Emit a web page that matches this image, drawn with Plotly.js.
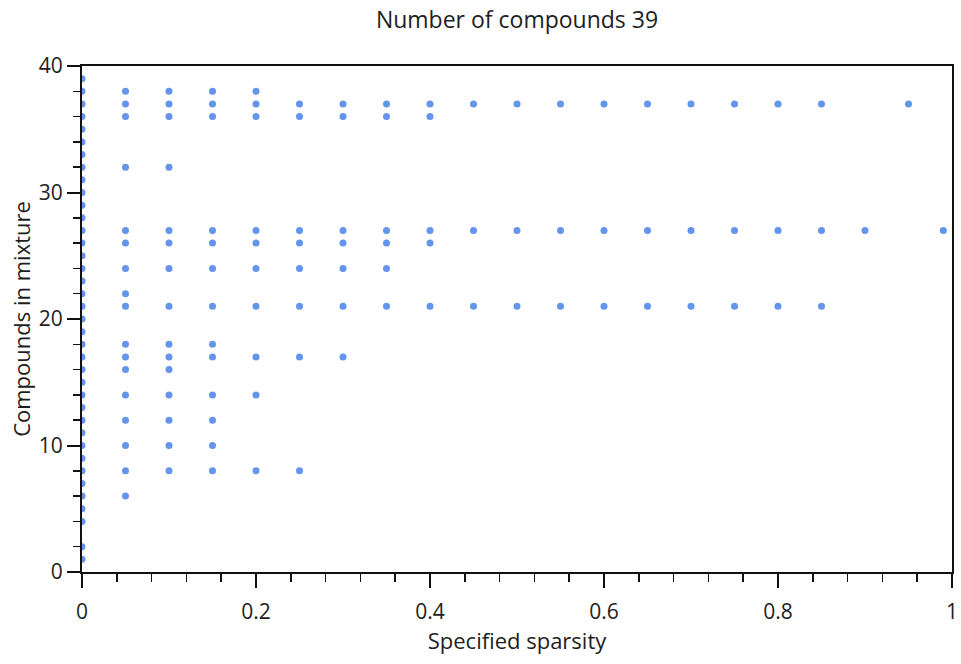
<!DOCTYPE html>
<html>
<head>
<meta charset="utf-8">
<script src="https://cdn.plot.ly/plotly-3.0.1.min.js"></script>
<style>
html,body{margin:0;padding:0;background:#fff;}
#chart{width:961px;height:664px;}
</style>
</head>
<body>
<div id="chart"></div>
<script>
// Specified sparsity levels (x positions of columns)
const sparsity = [0, 0.05, 0.10, 0.15, 0.20, 0.25, 0.30, 0.35, 0.40, 0.45, 0.50, 0.55, 0.60, 0.65, 0.70, 0.75, 0.80, 0.85, 0.90, 0.95, 0.99];
// Compounds in mixture observed at each sparsity level
const col000 = [1,2,4,5,6,7,8,9,10,11,12,13,14,15,16,17,18,19,20,21,22,23,24,25,26,27,28,29,30,31,32,33,34,35,36,37,38,39];
const col005 = [38,37,36,32,27,26,24,22,21,18,17,16,14,12,10,8,6];
const col010 = [38,37,36,32,27,26,24,21,18,17,16,14,12,10,8];
const col015 = [38,37,36,27,26,24,21,18,17,14,12,10,8];
const col020 = [38,37,36,27,26,24,21,17,14,8];
const col025 = [37,36,27,26,24,21,17,8];
const col030 = [37,36,27,26,24,21,17];
const col035 = [37,36,27,26,24,21];
const col040 = [37,36,27,26,21];
const col045 = [37,27,21];
const col050 = [37,27,21];
const col055 = [37,27,21];
const col060 = [37,27,21];
const col065 = [37,27,21];
const col070 = [37,27,21];
const col075 = [37,27,21];
const col080 = [37,27,21];
const col085 = [37,27,21];
const col090 = [27];
const col095 = [37];
const col099 = [27];
const columns = [col000,col005,col010,col015,col020,col025,col030,col035,col040,col045,col050,col055,col060,col065,col070,col075,col080,col085,col090,col095,col099];

const xs = [], ys = [];
columns.forEach((col, i) => { col.forEach(v => { xs.push(sparsity[i]); ys.push(v); }); });

const titleText = 'Number of compounds 39';
const xTitle = 'Specified sparsity';
const yTitle = 'Compounds in mixture';

const fontFam = '"Open Sans", "Noto Sans", sans-serif';
const txtColor = '#1e1e1e';
const fs = 21;

const trace = {
  x: xs, y: ys, type: 'scatter', mode: 'markers',
  marker: {color: '#6495ED', size: 7, line: {width: 0}},
  hoverinfo: 'x+y'
};

const layout = {
  width: 961, height: 664,
  margin: {l: 82, r: 9, t: 66, b: 92},
  paper_bgcolor: '#fff', plot_bgcolor: '#fff',
  showlegend: false,
  font: {family: fontFam, size: fs, color: txtColor},
  title: {text: titleText, x: 0.538, xanchor: 'center', y: 0.97, yanchor: 'middle',
          font: {family: fontFam, size: 23, color: txtColor}},
  xaxis: {
    range: [0, 1], tickmode: 'linear', tick0: 0, dtick: 0.2,
    ticks: 'outside', ticklen: 14, tickwidth: 2, tickcolor: '#111',
    minor: {dtick: 0.04, ticks: 'outside', ticklen: 8, tickwidth: 1.5, tickcolor: '#111', showgrid: false},
    showgrid: false, zeroline: false,
    showline: true, linecolor: '#111', linewidth: 2, mirror: true,
    ticklabelstandoff: 6,
    tickfont: {family: fontFam, size: fs, color: txtColor},
    title: {text: xTitle, standoff: 9, font: {family: fontFam, size: 22, color: txtColor}}
  },
  yaxis: {
    range: [0, 40], tickmode: 'linear', tick0: 0, dtick: 10,
    ticks: 'outside', ticklen: 13, tickwidth: 2, tickcolor: '#111',
    minor: {dtick: 2, ticks: 'outside', ticklen: 7, tickwidth: 1.5, tickcolor: '#111', showgrid: false},
    showgrid: false, zeroline: false,
    showline: true, linecolor: '#111', linewidth: 2, mirror: true,
    tickfont: {family: fontFam, size: fs, color: txtColor},
    title: {text: yTitle, standoff: 2, font: {family: fontFam, size: 22, color: txtColor}}
  }
};

Plotly.newPlot('chart', [trace], layout, {displayModeBar: false, staticPlot: true});
</script>
</body>
</html>
